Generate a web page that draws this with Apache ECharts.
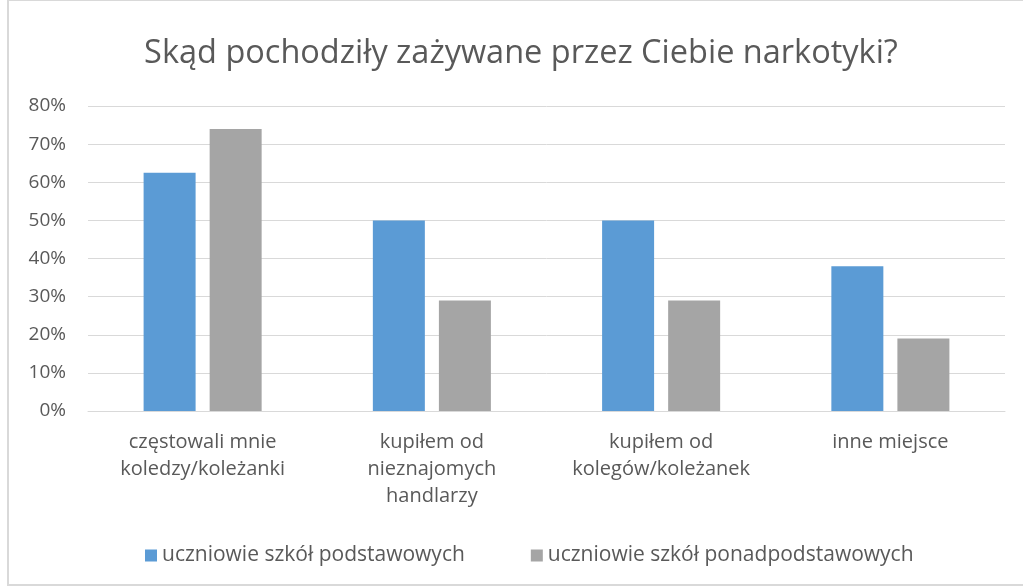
<!DOCTYPE html>
<html><head><meta charset="utf-8">
<script src="https://cdn.jsdelivr.net/npm/echarts@6/dist/echarts.min.js"></script>
<style>html,body{margin:0;padding:0;background:#fff}#c{width:1023px;height:587px}</style>
</head><body><div id="c"></div>
<script>
const categories = ['częstowali mnie\nkoledzy/koleżanki', 'kupiłem od\nnieznajomych\nhandlarzy', 'kupiłem od\nkolegów/koleżanek', 'inne miejsce'];
const seriesNames = ['uczniowie szkół podstawowych', 'uczniowie szkół ponadpodstawowych'];
const primary = [62.5, 50, 50, 38];
const secondary = [74, 29, 29, 19];
const yTicks = [0, 10, 20, 30, 40, 50, 60, 70, 80];

const chart = echarts.init(document.getElementById('c'));
const font = '"Open Sans", "DejaVu Sans", sans-serif';
chart.setOption({
  animation: false,
  title: {
    text: 'Skąd pochodziły zażywane przez Ciebie narkotyki?',
    left: 516, top: 32, textAlign: 'center',
    textStyle: { fontFamily: font, fontSize: 32.5, fontWeight: 'normal', color: '#595959' }
  },
  graphic: [{
    type: 'rect', shape: { x: 8, y: 0, width: 1030, height: 585 },
    style: { fill: 'none', stroke: '#d9d9d9', lineWidth: 2 }, silent: true
  }],
  legend: {
    data: seriesNames, left: 140, top: 540, itemWidth: 12, itemHeight: 12, itemGap: 66,
    icon: 'rect',
    textStyle: { fontFamily: font, fontSize: 21, color: '#595959' }
  },
  grid: { left: 88, right: 18, top: 106, bottom: 176, containLabel: false },
  xAxis: {
    type: 'category', data: categories,
    axisLine: { lineStyle: { color: '#d9d9d9', width: 1 } },
    axisTick: { show: false },
    axisLabel: { interval: 0, fontFamily: font, fontSize: 20, color: '#595959', lineHeight: 27, margin: 18 }
  },
  yAxis: {
    type: 'value', min: yTicks[0], max: yTicks[yTicks.length - 1], interval: 10,
    axisLine: { show: false }, axisTick: { show: false },
    splitLine: { lineStyle: { color: '#d9d9d9', width: 1 } },
    axisLabel: { formatter: v => v + '%', fontFamily: font, fontSize: 19, color: '#595959', margin: 22 }
  },
  series: [
    { name: seriesNames[0], type: 'bar', data: primary, barWidth: 52, barGap: '27%', itemStyle: { color: '#5b9bd5' } },
    { name: seriesNames[1], type: 'bar', data: secondary, barWidth: 52, itemStyle: { color: '#a5a5a5' } }
  ]
});
</script></body></html>
